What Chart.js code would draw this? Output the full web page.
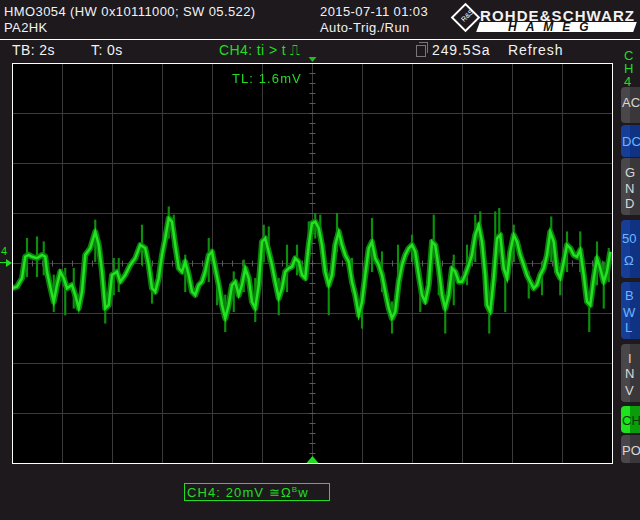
<!DOCTYPE html>
<html><head><meta charset="utf-8">
<script src="https://cdn.jsdelivr.net/npm/chart.js@4/dist/chart.umd.min.js"></script>
<style>
html,body{margin:0;padding:0;background:#1d191d;width:640px;height:520px;overflow:hidden;font-family:"Liberation Sans",Arial,sans-serif;}
.t{position:absolute;white-space:nowrap;color:#f2f2f2;line-height:1;font-size:13px;letter-spacing:0.4px;}
.g{color:#22dd22;}
#wrap{position:absolute;left:12px;top:55px;width:601px;height:409px;}
.btn{position:absolute;left:621px;width:24px;border-radius:4px;background:linear-gradient(to right,#4a474b 0,#4a474b 9px,#3a373b 9px);}
.btn.b{background:linear-gradient(to right,#173e96 0,#173e96 9px,#0f3283 9px);}
.btn.gr{background:linear-gradient(to right,#1de31d 0,#1de31d 9px,#0a9c0a 9px);}
.bl{position:absolute;font-size:13px;line-height:1;color:#d8d8d8;white-space:nowrap;}
.bb{color:#6cb6ff;}
</style></head>
<body>
<!-- header -->
<div class="t" style="left:4px;top:5px;">HMO3054 (HW 0x10111000; SW 05.522)</div>
<div class="t" style="left:4px;top:21px;">PA2HK</div>
<div class="t" style="left:320px;top:5px;">2015-07-11 01:03</div>
<div class="t" style="left:320px;top:21px;">Auto-Trig./Run</div>
<!-- logo -->
<div style="position:absolute;left:455px;top:7px;width:17px;height:17px;border:2px solid #fff;transform:rotate(45deg);"></div>
<div class="t" style="left:460px;top:12px;font-size:7px;letter-spacing:0;transform:rotate(-45deg);color:#fff;">R&amp;S</div>
<div class="t" style="left:480px;top:8px;font-size:15px;font-weight:bold;letter-spacing:1.1px;">ROHDE&amp;SCHWARZ</div>
<div style="position:absolute;left:478px;top:22px;width:157px;height:10px;background:#fff;transform:skewX(-20deg);"></div>
<div class="t" style="left:508px;top:21px;font-size:12px;font-weight:bold;color:#111;letter-spacing:9px;font-style:italic;">HAMEG</div>
<div style="position:absolute;left:0;top:39px;width:640px;height:1px;background:#fff;"></div>
<!-- status row -->
<div class="t" style="left:12px;top:43px;font-size:14px;">TB: 2s</div>
<div class="t" style="left:91px;top:43px;font-size:14px;">T: 0s</div>
<div class="t g" style="left:219px;top:43px;font-size:14px;">CH4: ti &gt; t ⎍</div>
<div style="position:absolute;left:416px;top:45px;width:8px;height:10px;border:1px solid #777;"></div>
<div style="position:absolute;left:419px;top:42px;width:8px;height:10px;border:1px solid #777;border-left:none;border-bottom:none;"></div>
<div class="t" style="left:432px;top:43px;font-size:14px;letter-spacing:0.9px;">249.5Sa</div>
<div class="t" style="left:508px;top:43px;font-size:14px;letter-spacing:0.9px;">Refresh</div>
<!-- side CH4 label -->
<div class="t g" style="left:624px;top:49px;font-size:13px;">C</div>
<div class="t g" style="left:624px;top:62px;font-size:13px;">H</div>
<div class="t g" style="left:624px;top:75px;font-size:13px;">4</div>
<!-- buttons -->
<div class="btn" style="top:87px;height:36px;"></div>
<div class="bl" style="left:622px;top:96px;">AC</div>
<div class="btn b" style="top:125px;height:32px;"></div>
<div class="bl bb" style="left:622px;top:135px;">DC</div>
<div class="btn" style="top:158px;height:57px;"></div>
<div class="bl" style="left:625px;top:166px;">G</div>
<div class="bl" style="left:625px;top:182px;">N</div>
<div class="bl" style="left:625px;top:197px;">D</div>
<div class="btn b" style="top:220px;height:58px;"></div>
<div class="bl bb" style="left:622px;top:232px;">50</div>
<div class="bl bb" style="left:624px;top:254px;">Ω</div>
<div class="btn b" style="top:282px;height:57px;"></div>
<div class="bl bb" style="left:625px;top:289px;">B</div>
<div class="bl bb" style="left:623px;top:306px;">W</div>
<div class="bl bb" style="left:625px;top:321px;">L</div>
<div class="btn" style="top:344px;height:58px;"></div>
<div class="bl" style="left:628px;top:352px;">I</div>
<div class="bl" style="left:625px;top:367px;">N</div>
<div class="bl" style="left:625px;top:384px;">V</div>
<div class="btn gr" style="top:406px;height:27px;"></div>
<div class="bl" style="left:622px;top:414px;color:#0a3a0a;">CH</div>
<div class="btn" style="top:435px;height:28px;"></div>
<div class="bl" style="left:622px;top:444px;">PO</div>
<!-- plot -->
<div id="wrap"><canvas id="c" width="601" height="409"></canvas></div>
<div class="t g" style="left:232px;top:72px;font-size:13px;letter-spacing:1.1px;">TL: 1.6mV</div>
<div class="t g" style="left:1px;top:246px;font-size:11px;letter-spacing:0;">4</div>
<div style="position:absolute;left:6px;top:259px;width:0;height:0;border-top:4px solid transparent;border-bottom:4px solid transparent;border-left:6px solid #22dd22;"></div>
<div style="position:absolute;left:0;top:262px;width:7px;height:1px;background:#22dd22;"></div>
<!-- bottom -->
<div style="position:absolute;left:184px;top:483px;width:144px;height:16px;border:1px solid #22dd22;"></div>
<div class="t g" style="left:187px;top:486px;font-size:13px;letter-spacing:1.1px;">CH4: 20mV ≅Ω<sup style="font-size:8px;">B</sup>w</div>
<script>
// time in seconds (2 s/div), voltage in mV (20 mV/div)
const timeS = [-12.0,-11.8,-11.6,-11.47,-11.33,-11.2,-11.0,-10.8,-10.67,-10.6,-10.47,-10.33,-10.2,-10.07,-9.93,-9.8,-9.6,-9.47,-9.33,-9.2,-9.07,-8.87,-8.67,-8.53,-8.4,-8.27,-8.13,-8.0,-7.8,-7.67,-7.47,-7.27,-7.07,-6.87,-6.67,-6.53,-6.4,-6.27,-6.13,
 -6.0,-5.87,-5.73,-5.6,-5.47,-5.33,-5.2,-5.07,-4.93,-4.8,-4.67,-4.53,-4.4,-4.27,-4.13,-4.0,-3.87,-3.73,-3.6,-3.47,-3.33,-3.2,-3.07,-2.93,-2.8,-2.67,-2.53,-2.4,-2.27,-2.13,-2.0,-1.87,-1.73,-1.6,-1.47,-1.33,-1.2,-1.07,-0.93,-0.8,-0.67,-0.53,-0.4,-0.27,-0.13,
 0.0,0.13,0.27,0.4,0.53,0.67,0.8,0.93,1.07,1.2,1.33,1.47,1.6,1.73,1.87,2.0,2.13,2.27,2.4,2.53,2.67,2.8,2.93,3.07,3.2,3.33,3.47,3.6,3.73,3.87,4.0,4.13,4.27,4.4,4.53,4.67,4.8,4.93,5.07,5.2,5.33,5.47,5.6,5.73,5.87,
 6.0,6.13,6.27,6.4,6.53,6.67,6.8,6.93,7.0,7.13,7.27,7.4,7.53,7.67,7.8,7.93,8.07,8.2,8.33,8.47,8.6,8.73,8.87,9.0,9.13,9.27,9.4,9.53,9.67,9.8,9.93,10.07,10.2,10.33,10.47,10.6,10.73,10.87,11.0,11.13,11.27,11.4,11.53,11.67,11.8,11.93];
const ch4mV = [-10.1,-9.5,-6.1,2.5,3.2,2.5,1.9,3.2,2.5,-3.5,-9.5,-15.5,-8.8,-3.5,-6.1,-10.1,-8.8,-12.8,-18.1,-11.5,3.2,5.9,12.5,7.2,-3.5,-18.1,-16.8,-4.8,-3.5,-7.5,-4.8,-0.8,1.9,7.2,5.9,-0.8,-10.1,-11.5,-6.1,
 3.2,9.9,17.9,16.5,7.2,-2.1,-3.5,0.5,-4.8,-11.5,-12.8,-8.8,-7.5,-3.5,3.2,4.5,-2.1,-8.8,-16.8,-22.1,-16.8,-8.8,-7.5,-12.8,-8.8,-2.1,-6.1,-15.5,-18.1,-8.8,8.5,9.9,4.5,-0.8,-7.5,-14.1,-10.1,-3.5,-2.1,-1.5,1.9,0.5,-4.8,-6.1,7.2,
 15.9,16.5,13.9,7.2,-3.5,-8.8,-4.8,7.2,12.5,7.2,3.2,0.5,-7.5,-12.8,-20.8,-15.5,-4.8,5.9,8.5,1.9,-0.8,-4.8,-11.5,-18.1,-22.1,-19.5,-7.5,-0.8,3.2,5.9,7.2,4.5,-4.8,-12.8,-15.5,-8.8,8.5,7.2,-2.1,-12.8,-18.1,-12.8,-2.1,-3.5,-7.5,
 -7.5,-4.8,-0.8,3.2,11.2,15.2,8.5,-4.8,-16.8,-19.5,-6.1,9.9,11.2,-2.1,-6.1,4.5,11.2,8.5,3.2,-0.8,-4.8,-7.5,-10.1,-8.8,-4.8,-2.1,3.2,12.5,8.5,-3.5,-6.1,0.5,7.2,5.9,3.2,2.5,5.2,-4.8,-15.5,-16.8,-6.1,1.9,-2.1,-7.5,-3.5,4.5];
// noise spikes: time (s), low and high (mV)
const spikeT  = [-11.4,-11.0,-10.73,-10.33,-9.87,-9.53,-8.67,-8.27,-7.93,-7.73,-6.8,-6.4,
 -5.73,-5.53,-5.07,-4.13,-3.8,-3.47,-3.13,-2.73,-2.27,-1.93,-1.73,-1.33,-1.0,-0.6,-0.13,
 0.13,0.33,0.67,1.0,1.6,2.0,2.4,2.8,3.2,3.44,4.0,4.33,4.87,5.07,5.33,5.67,
 6.2,6.53,6.73,7.09,7.33,7.49,7.73,8.07,8.67,9.2,9.57,9.93,10.2,10.73,11.09,11.4,11.67,11.87];
const spikeLo = [-5.5,-5.5,-4.8,-19.5,-20.8,-18.1,0.5,-24.1,-12.8,-11.5,-0.8,-16.1,
 9.9,5.9,-11.5,-7.5,-16.8,-27.5,-19.5,-11.5,-23.5,0.5,0.5,-20.8,-11.5,-4.8,4.5,
 9.9,7.2,-20.8,4.5,-11.5,-26.1,-3.5,-11.5,-28.1,-14.1,0.5,-19.5,4.5,-12.8,-28.1,-16.8,
 -8.8,0.5,7.2,-28.1,0.5,7.2,-19.5,0.5,-14.1,-12.8,0.5,-12.8,-3.5,-3.5,-27.5,-8.8,-18.1,-7.5];
const spikeHi = [9.9,10.5,8.5,-4.8,-2.1,-2.1,17.2,-12.8,1.9,1.9,15.2,-4.8,
 22.5,19.2,3.2,9.9,-0.8,-12.8,-3.5,1.2,-6.1,15.2,14.5,-6.1,7.2,7.2,16.5,
 19.9,19.2,-4.8,19.9,1.9,-10.1,17.9,4.5,-15.5,7.2,11.2,-3.5,19.2,1.9,-12.8,3.2,
 7.2,19.2,20.5,-12.8,20.5,21.9,0.5,15.2,-3.5,0.5,18.5,-3.5,12.5,12.5,-12.8,8.5,0.5,5.9];
const xTicks = [-12,-10,-8,-6,-4,-2,0,2,4,6,8,10,12];
const yTicks = [-80,-60,-40,-20,0,20,40,60,80];

const mkPts = () => timeS.map((t,i)=>({x:t,y:ch4mV[i]}));
const spikes = spikeT.map((t,i)=>({x:t,y:[spikeLo[i],spikeHi[i]]}));

const scopeGrid = {
  id:'scopeGrid',
  beforeDatasetsDraw(chart){
    const {ctx, chartArea:a, scales:{x,y}} = chart;
    ctx.save();
    ctx.fillStyle='#000';
    ctx.fillRect(a.left,a.top,a.right-a.left,a.bottom-a.top);
    ctx.strokeStyle='#3b3b3b'; ctx.lineWidth=1;
    xTicks.forEach(v=>{const p=Math.round(x.getPixelForValue(v))+0.5;ctx.beginPath();ctx.moveTo(p,a.top);ctx.lineTo(p,a.bottom);ctx.stroke();});
    yTicks.forEach(v=>{const p=Math.round(y.getPixelForValue(v))+0.5;ctx.beginPath();ctx.moveTo(a.left,p);ctx.lineTo(a.right,p);ctx.stroke();});
    ctx.strokeStyle='#5a5a5a';
    const cy=Math.round(y.getPixelForValue(0))+0.5, cx=Math.round(x.getPixelForValue(0))+0.5;
    for(let v=-12;v<=12.001;v+=0.4){const p=Math.round(x.getPixelForValue(v))+0.5;ctx.beginPath();ctx.moveTo(p,cy-3);ctx.lineTo(p,cy+3);ctx.stroke();}
    for(let v=-80;v<=80.001;v+=4){const p=Math.round(y.getPixelForValue(v))+0.5;ctx.beginPath();ctx.moveTo(cx-3,p);ctx.lineTo(cx+3,p);ctx.stroke();}
    ctx.restore();
  },
  afterDatasetsDraw(chart){
    const {ctx, chartArea:a, scales:{x,y}} = chart;
    ctx.save();
    ctx.strokeStyle='#ffffff'; ctx.lineWidth=1;
    ctx.strokeRect(a.left+0.5,a.top+0.5,a.right-a.left,a.bottom-a.top);
    const cx=Math.round(x.getPixelForValue(0))+0.5;
    ctx.fillStyle='#22bb22';
    ctx.beginPath();ctx.moveTo(cx-4,a.top-6);ctx.lineTo(cx+4,a.top-6);ctx.lineTo(cx,a.top-1);ctx.closePath();ctx.fill();
    ctx.fillStyle='#22dd22';
    ctx.beginPath();ctx.moveTo(cx-6,a.bottom);ctx.lineTo(cx+6,a.bottom);ctx.lineTo(cx,a.bottom-7);ctx.closePath();ctx.fill();
    ctx.restore();
  }
};

new Chart(document.getElementById('c'),{
  data:{datasets:[
    {type:'bar',data:spikes,backgroundColor:'#0c900c',barThickness:1.5,order:3},
    {type:'line',data:mkPts(),borderColor:'#0b840b',borderWidth:6,pointRadius:0,tension:0,borderJoinStyle:'round',order:2},
    {type:'line',data:mkPts(),borderColor:'#22e222',borderWidth:2.5,pointRadius:0,tension:0,order:1}
  ]},
  options:{
    responsive:false,animation:false,
    layout:{padding:{left:0,top:8,right:1,bottom:1}},
    plugins:{legend:{display:false},tooltip:{enabled:false}},
    scales:{
      x:{type:'linear',min:-12,max:12,display:false,offset:false},
      y:{type:'linear',min:-80,max:80,display:false}
    }
  },
  plugins:[scopeGrid]
});
</script>
</body></html>
